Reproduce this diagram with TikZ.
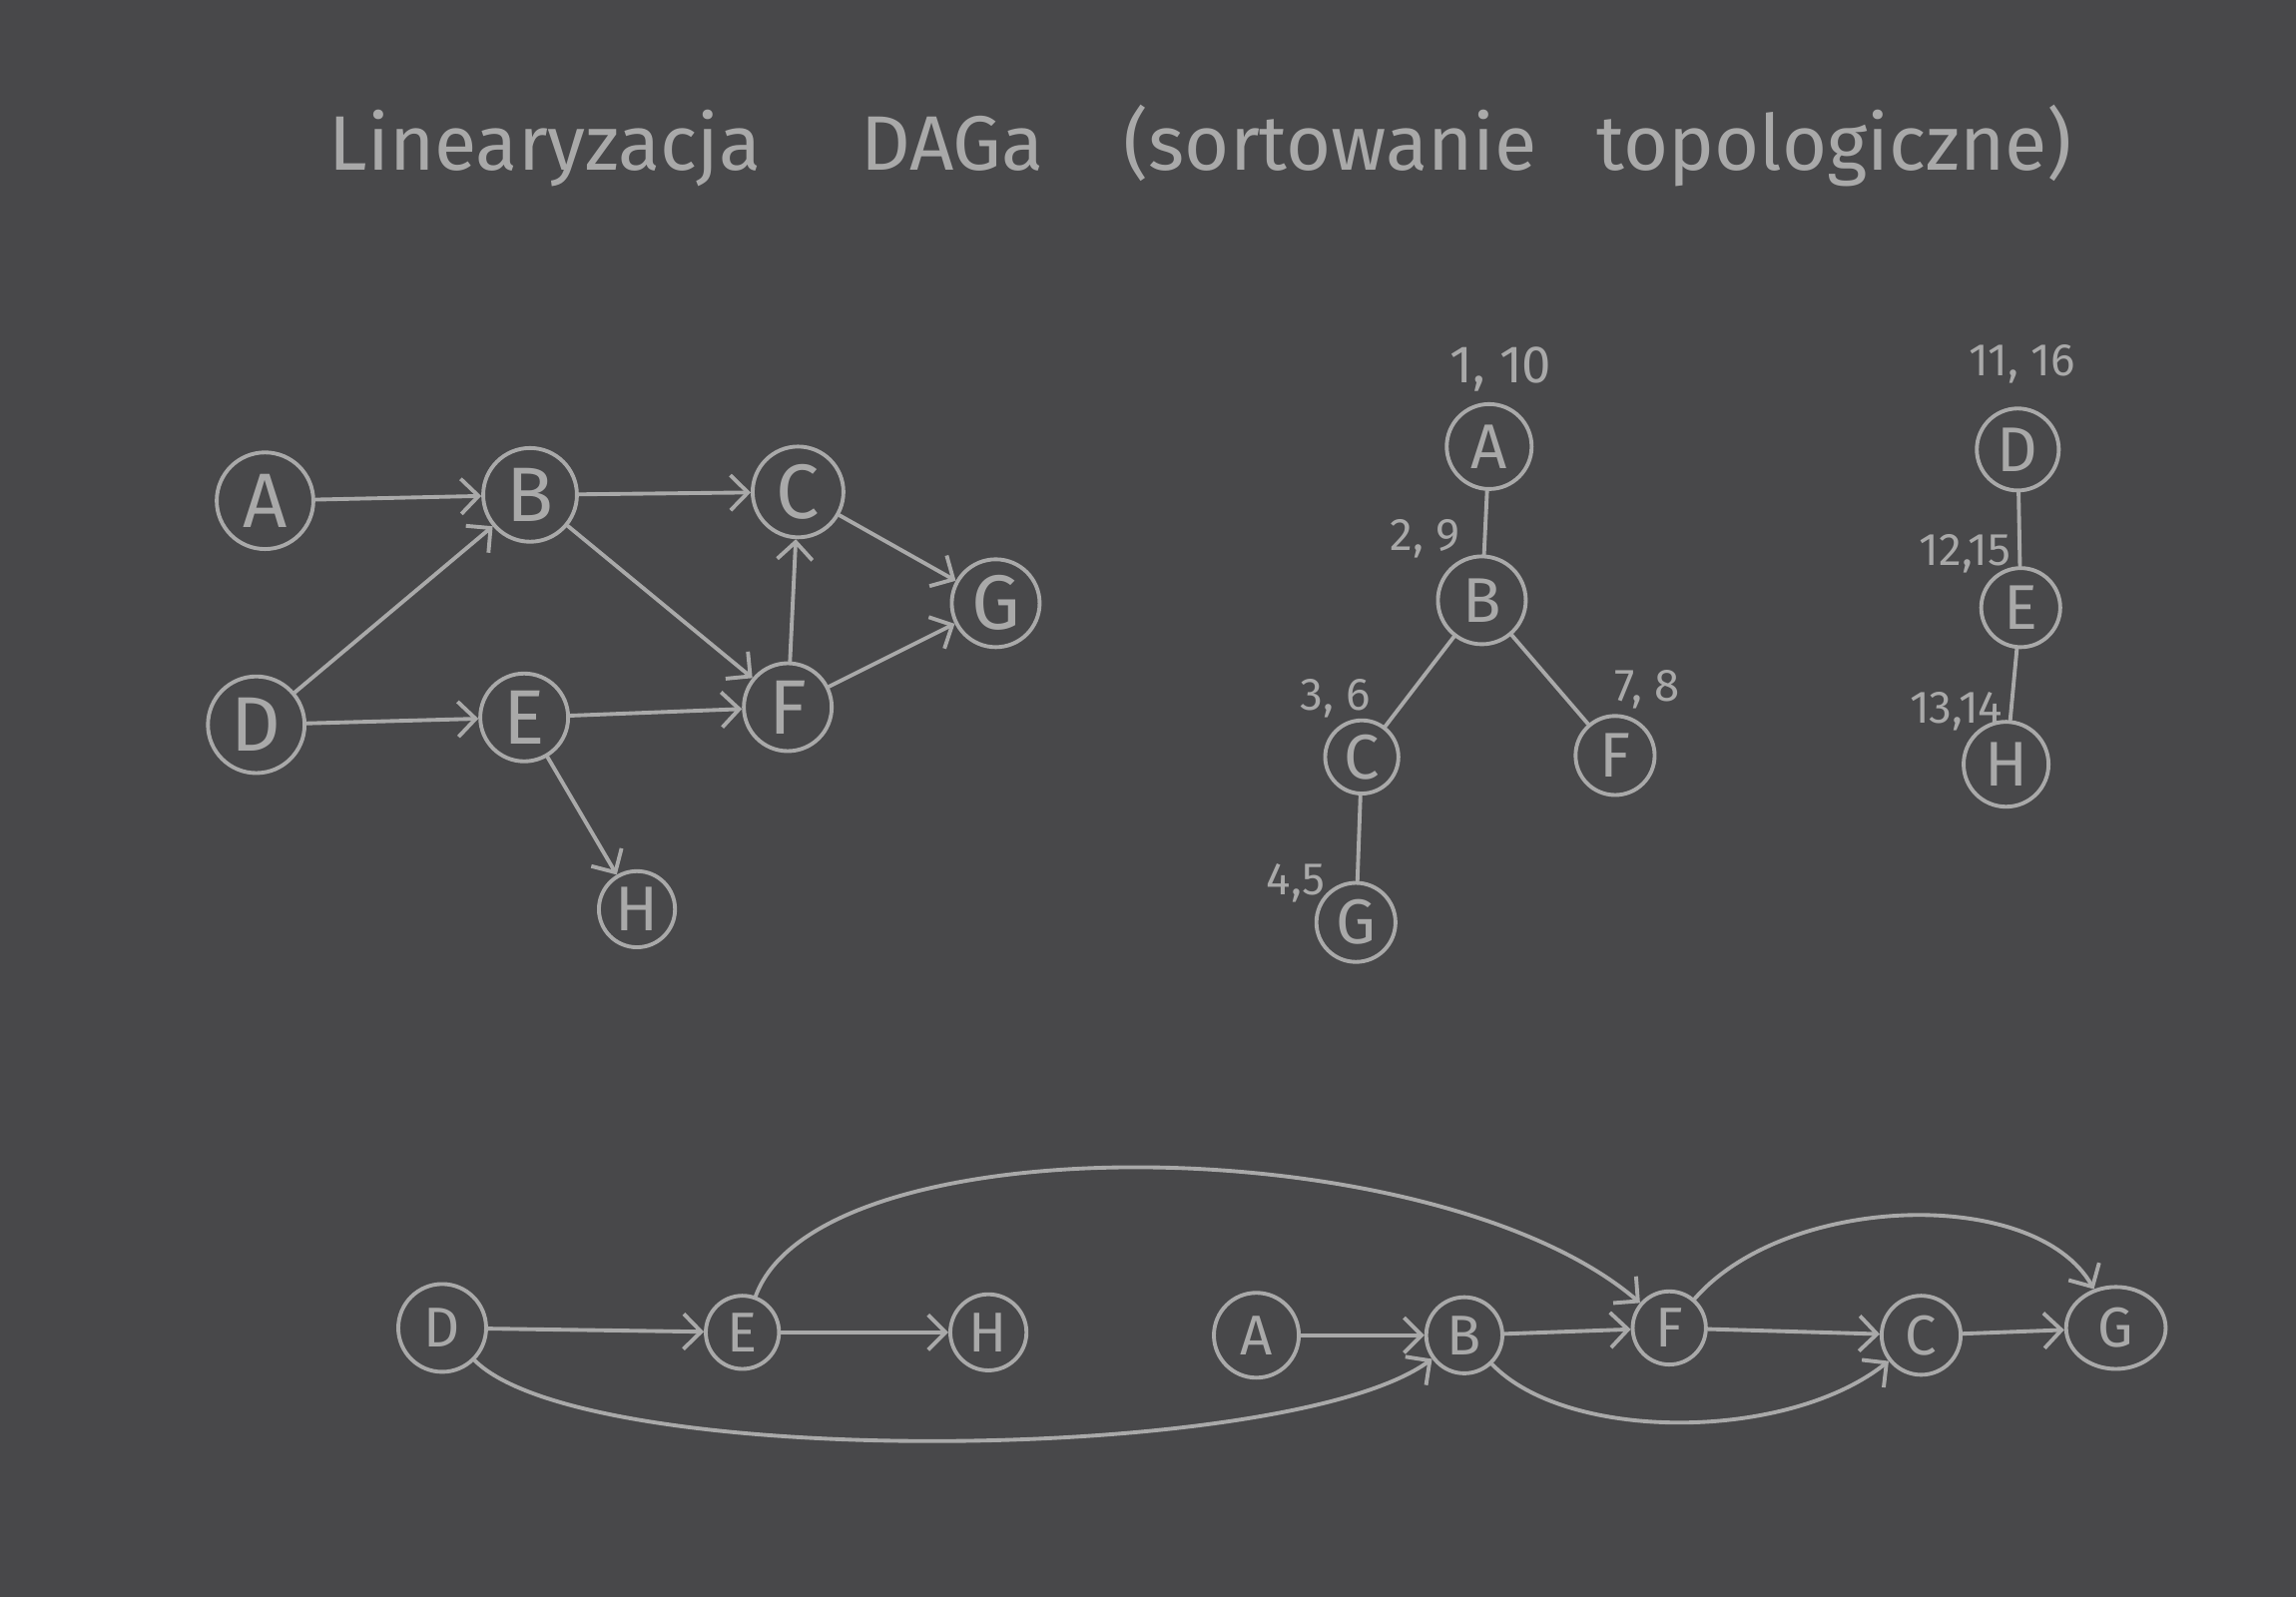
\documentclass[tikz,border=0pt]{standalone}
\usepackage{fontspec}
\setmainfont{Fira Sans}
\usetikzlibrary{arrows.meta,shapes.geometric}
\definecolor{bg}{HTML}{48484A}
\definecolor{ink}{HTML}{A9A9A9}
\begin{document}
\begin{tikzpicture}[x=0.014668cm,y=-0.014668cm,
  vtx/.style={circle,draw=ink,text=ink,line width=1.1pt,inner sep=0pt,minimum size=2*#1*0.014668cm},
  big/.style={font=\fontsize{22}{24}\selectfont},
  mid/.style={font=\fontsize{18}{20}\selectfont},
  sml/.style={font=\fontsize{16}{18}\selectfont},
  lbl/.style={text=ink,inner sep=0pt,font=\fontsize{13}{15}\selectfont},
  arr/.style={draw=ink,line width=1.1pt,line cap=round,-{Straight Barb[length=5pt,width=10pt,line width=1.1pt]}},
  edge/.style={draw=ink,line width=1.1pt,line cap=round}]
\fill[bg] (0,0) rectangle (1568,1091);
\useasboundingbox (0,0) rectangle (1568,1091);
% title
\node[text=ink,anchor=base,inner sep=0pt,font=\fontsize{22}{26}\selectfont] (title) at (820,116)
  {Linearyzacja\hspace{1.0cm}DAGa\hspace{0.8cm}(sortowanie\hspace{0.6cm}topologiczne)};
% left graph
\node[vtx=33,big] (A) at (181,342) {A};
\node[vtx=32,big] (B) at (362,338) {B};
\node[vtx=31,big] (C) at (545,336) {C};
\node[vtx=30,big] (G) at (680,412) {G};
\node[vtx=33,big] (D) at (175,495) {D};
\node[vtx=30,big] (E) at (358,490) {E};
\node[vtx=30,big] (F) at (538,483) {F};
\node[vtx=26,mid] (H) at (435,621) {H};
\draw[arr] (A) -- (B);
\draw[arr] (B) -- (C);
\draw[arr] (B) -- (F);
\draw[arr] (D) -- (B);
\draw[arr] (D) -- (E);
\draw[arr] (E) -- (F);
\draw[arr] (F) -- (C);
\draw[arr] (C) -- (G);
\draw[arr] (F) -- (G);
\draw[arr] (E) -- (H);
% DFS tree 1
\node[vtx=29,mid] (tA) at (1017,305) {A};
\node[vtx=30,mid] (tB) at (1012,410) {B};
\node[vtx=25,mid] (tC) at (930,517) {C};
\node[vtx=27,mid] (tF) at (1103,516) {F};
\node[vtx=27,mid] (tG) at (926,630) {G};
\draw[edge] (tA) -- (tB);
\draw[edge] (tB) -- (tC);
\draw[edge] (tB) -- (tF);
\draw[edge] (tC) -- (tG);
\node[lbl,font=\fontsize{15}{17}\selectfont] (lA) at (1025,252) {1, 10};
\node[lbl] (lB) at (973,368) {2, 9};
\node[lbl] (lC) at (912,477) {3, 6};
\node[lbl] (lF) at (1125,471) {7, 8};
\node[lbl] (lG) at (885,603) {4,5};
% DFS tree 2
\node[vtx=28,mid] (sD) at (1378,307) {D};
\node[vtx=27,mid] (sE) at (1380,415) {E};
\node[vtx=29,mid] (sH) at (1370,522) {H};
\draw[edge] (sD) -- (sE);
\draw[edge] (sE) -- (sH);
\node[lbl] (lD) at (1381,249) {11, 16};
\node[lbl] (lE) at (1342,378) {12,15};
\node[lbl] (lH) at (1336,486) {13,14};
% linear order
\node[vtx=30,sml] (bD) at (302,907) {D};
\node[vtx=25,sml] (bE) at (507,910) {E};
\node[vtx=26,sml] (bH) at (675,910) {H};
\node[vtx=29,sml] (bA) at (858,912) {A};
\node[vtx=26,sml] (bB) at (1000,912) {B};
\node[vtx=25,sml] (bF) at (1140,907) {F};
\node[vtx=27,sml] (bC) at (1312,912) {C};
\node[ellipse,draw=ink,text=ink,line width=1.1pt,inner sep=0pt,minimum width=68*0.014668cm,minimum height=56*0.014668cm,sml] (bG) at (1445,907) {G};
\draw[arr] (bD) -- (bE);
\draw[arr] (bE) -- (bH);
\draw[arr] (bA) -- (bB);
\draw[arr] (bB) -- (bF);
\draw[arr] (bF) -- (bC);
\draw[arr] (bC) -- (bG);
\draw[arr] (bE) .. controls (560,765) and (980,770) .. (bF);
\draw[arr] (bF) .. controls (1220,815) and (1390,810) .. (bG);
\draw[arr] (bD) .. controls (400,1005) and (880,1000) .. (bB);
\draw[arr] (bB) .. controls (1070,985) and (1220,985) .. (bC);
\end{tikzpicture}
\end{document}
